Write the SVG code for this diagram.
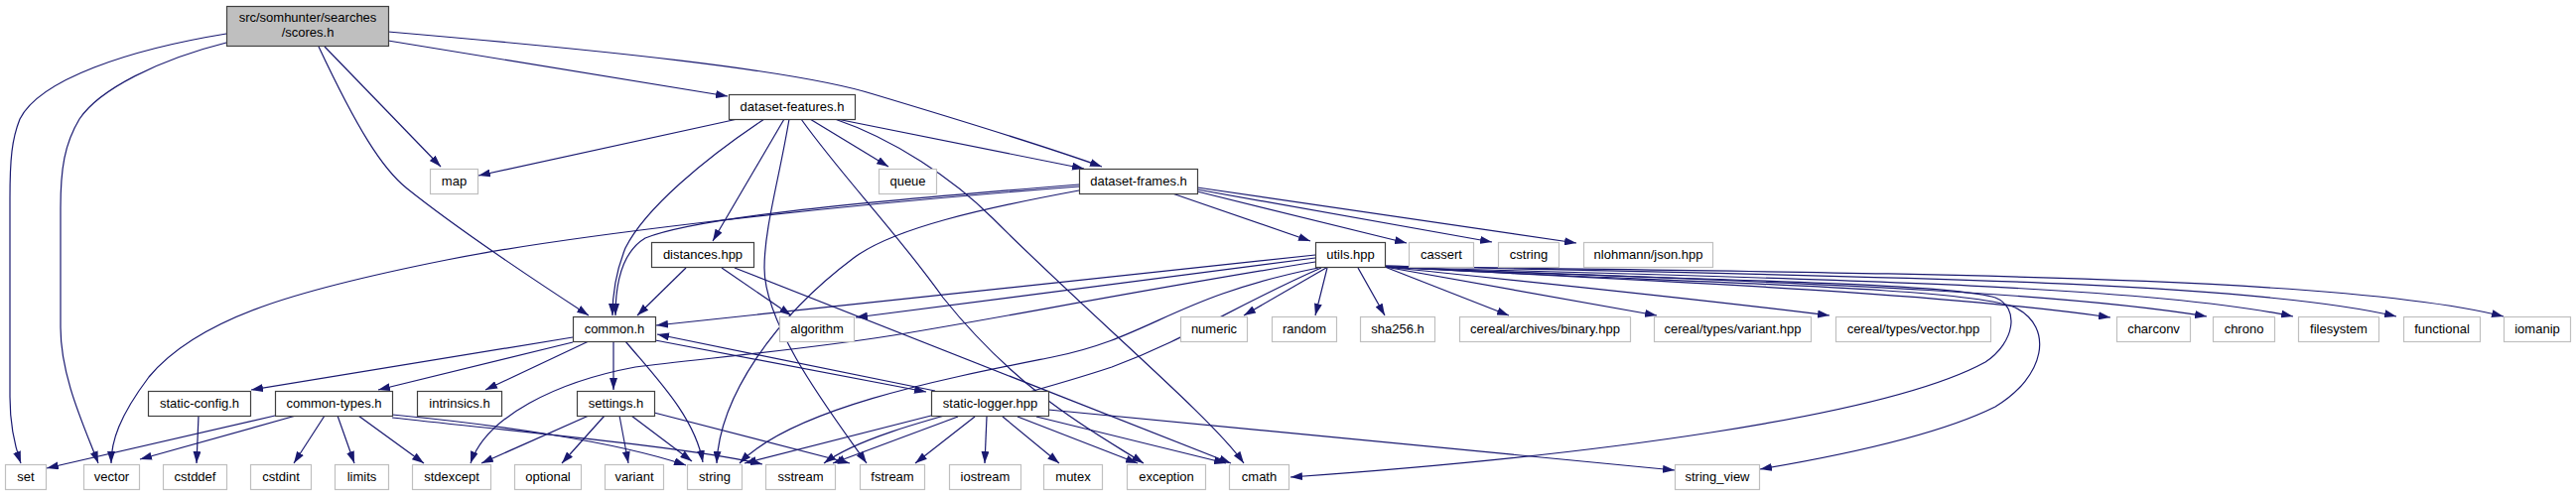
<svg xmlns="http://www.w3.org/2000/svg" width="2595" height="500" viewBox="0 0 2595 500">
<style>
text{font-family:"Liberation Sans",Arial,sans-serif;font-size:13px;text-anchor:middle;fill:#000}
.n rect{fill:#fff;stroke:#404040;stroke-width:1.2}
.x rect{fill:#fff;stroke:#bfbfbf;stroke-width:1.2}
.r rect{fill:#bfbfbf;stroke:#404040;stroke-width:1.2}
#edges path{fill:none;stroke:#191970;stroke-width:1.2;marker-end:url(#a)}
</style>
<defs>
<marker id="a" viewBox="0 0 12 8" refX="12" refY="4" markerWidth="12" markerHeight="8" markerUnits="userSpaceOnUse" orient="auto">
<path d="M0,0 L12,4 L0,8z" fill="#191970"/>
</marker>
</defs>
<rect width="2595" height="500" fill="#fff"/>
<g id="edges">
<path d="M228,34 C130,50 40,80 20,120 C12,140 10,160 10,200 L10,400 C10,430 15,450 21,467"/>
<path d="M228,43 C160,60 100,90 80,120 C65,145 61,170 61,210 L61,330 C61,380 85,430 99,467"/>
<path d="M327,47 L444,168"/>
<path d="M321,47 C360,130 385,170 410,190 C460,230 550,290 593,318"/>
<path d="M391,41 L733,97"/>
<path d="M391,32 C600,50 800,70 880,95 C980,125 1060,150 1110,168"/>
<path d="M743,120 L482,177"/>
<path d="M770,120 C710,160 650,210 630,250 C620,275 617,300 617,318"/>
<path d="M790,120 L718,243"/>
<path d="M795,120 C785,180 770,230 770,270 C770,330 840,420 873,467"/>
<path d="M807,120 C850,180 900,230 950,300 C1030,400 1110,440 1152,467"/>
<path d="M816,120 L895,168"/>
<path d="M841,120 C900,140 960,180 1000,220 C1100,320 1220,420 1253,467"/>
<path d="M843,120 L1092,170"/>
<path d="M1087,188 C800,210 560,240 450,262 C300,292 200,320 150,380 C120,420 112,445 112,467"/>
<path d="M1087,186 C850,205 700,220 650,240 C625,255 620,290 620,318"/>
<path d="M1087,192 C990,210 900,230 860,260 C780,320 725,400 722,467"/>
<path d="M1181,195 L1320,243"/>
<path d="M1206,193 L1417,245"/>
<path d="M1206,191 L1503,244"/>
<path d="M1206,189 L1588,245"/>
<path d="M1325,257 L661,328"/>
<path d="M1325,260 L862,320"/>
<path d="M1325,264 C1150,292 1000,322 900,338 C800,354 700,362 640,370 C560,385 490,420 474,467"/>
<path d="M1328,270 C1180,300 1160,340 1060,360 C960,380 800,410 745,467"/>
<path d="M1331,270 C1240,310 1200,340 1120,370 C1000,410 880,430 830,467"/>
<path d="M1336,270 L1253,318"/>
<path d="M1337,270 L1325,318"/>
<path d="M1368,270 L1395,318"/>
<path d="M1395,269 L1520,318"/>
<path d="M1395,269 L1669,318"/>
<path d="M1395,269 C1550,285 1700,300 1843,318"/>
<path d="M1395,269 C1700,285 1950,295 2126,320"/>
<path d="M1395,269 C1700,282 2050,290 2223,319"/>
<path d="M1395,269 C1750,280 2150,285 2310,319"/>
<path d="M1395,268 C1800,278 2250,280 2414,319"/>
<path d="M1395,268 C1850,276 2350,275 2522,319"/>
<path d="M1395,269 C1650,282 1950,283 2010,300 C2035,310 2030,345 2000,365 C1900,420 1600,460 1300,481"/>
<path d="M1395,269 C1650,284 1980,288 2030,310 C2070,330 2060,380 2010,410 C1950,440 1850,460 1773,473"/>
<path d="M577,340 L253,393"/>
<path d="M577,345 L381,393"/>
<path d="M593,344 L489,393"/>
<path d="M618,344 L618,393"/>
<path d="M630,344 C660,380 700,420 708,466"/>
<path d="M660,343 L933,395"/>
<path d="M942,394 L662,337"/>
<path d="M938,419 L750,467"/>
<path d="M965,420 L839,467"/>
<path d="M982,420 L922,467"/>
<path d="M994,420 L992,467"/>
<path d="M1010,420 L1067,467"/>
<path d="M1025,420 L1146,467"/>
<path d="M1044,420 L1235,467"/>
<path d="M1056,413 L1687,474"/>
<path d="M691,270 L642,318"/>
<path d="M727,270 L797,318"/>
<path d="M740,270 L1240,467"/>
<path d="M593,419 L485,467"/>
<path d="M609,419 L566,467"/>
<path d="M624,419 L633,467"/>
<path d="M636,419 L697,465"/>
<path d="M659,416 L856,467"/>
<path d="M277,419 L47,472"/>
<path d="M298,419 L141,463"/>
<path d="M327,419 L296,467"/>
<path d="M340,419 L357,467"/>
<path d="M361,419 L427,467"/>
<path d="M395,418 C500,428 620,445 691,469"/>
<path d="M395,421 C550,438 700,452 768,468"/>
<path d="M200,419 L198,467"/>
</g>
<g id="scores_h" class="r"><rect x="228.5" y="6.5" width="163" height="40"/><text x="310" y="22">src/somhunter/searches</text><text x="310" y="37">/scores.h</text></g>
<g id="dataset_features_h" class="n"><rect x="734.5" y="95.5" width="127" height="25"/><text x="798" y="112">dataset-features.h</text></g>
<g id="map" class="x"><rect x="433.5" y="170.5" width="48" height="25"/><text x="457.5" y="187">map</text></g>
<g id="queue" class="x"><rect x="885.5" y="170.5" width="58" height="25"/><text x="914.5" y="187">queue</text></g>
<g id="dataset_frames_h" class="n"><rect x="1087.5" y="170.5" width="119" height="25"/><text x="1147" y="187">dataset-frames.h</text></g>
<g id="distances_hpp" class="n"><rect x="656.5" y="244.5" width="103" height="25"/><text x="708" y="261">distances.hpp</text></g>
<g id="utils_hpp" class="n"><rect x="1325.5" y="244.5" width="70" height="25"/><text x="1360.5" y="261">utils.hpp</text></g>
<g id="cassert" class="x"><rect x="1419.5" y="244.5" width="65" height="25"/><text x="1452" y="261">cassert</text></g>
<g id="cstring" class="x"><rect x="1509.5" y="244.5" width="61" height="25"/><text x="1540" y="261">cstring</text></g>
<g id="json_hpp" class="x"><rect x="1595.5" y="244.5" width="130" height="25"/><text x="1660.5" y="261">nlohmann/json.hpp</text></g>
<g id="common_h" class="n"><rect x="577.5" y="319.5" width="83" height="25"/><text x="619" y="336">common.h</text></g>
<g id="algorithm" class="x"><rect x="785.5" y="319.5" width="75" height="25"/><text x="823" y="336">algorithm</text></g>
<g id="numeric" class="x"><rect x="1189.5" y="319.5" width="67" height="25"/><text x="1223" y="336">numeric</text></g>
<g id="random" class="x"><rect x="1281.5" y="319.5" width="65" height="25"/><text x="1314" y="336">random</text></g>
<g id="sha256_h" class="x"><rect x="1370.5" y="319.5" width="75" height="25"/><text x="1408" y="336">sha256.h</text></g>
<g id="cereal_binary" class="x"><rect x="1470.5" y="319.5" width="172" height="25"/><text x="1556.5" y="336">cereal/archives/binary.hpp</text></g>
<g id="cereal_variant" class="x"><rect x="1666.5" y="319.5" width="158" height="25"/><text x="1745.5" y="336">cereal/types/variant.hpp</text></g>
<g id="cereal_vector" class="x"><rect x="1849.5" y="319.5" width="156" height="25"/><text x="1927.5" y="336">cereal/types/vector.hpp</text></g>
<g id="charconv" class="x"><rect x="2132.5" y="319.5" width="74" height="25"/><text x="2169.5" y="336">charconv</text></g>
<g id="chrono" class="x"><rect x="2229.5" y="319.5" width="62" height="25"/><text x="2260.5" y="336">chrono</text></g>
<g id="filesystem" class="x"><rect x="2315.5" y="319.5" width="81" height="25"/><text x="2356" y="336">filesystem</text></g>
<g id="functional" class="x"><rect x="2421.5" y="319.5" width="77" height="25"/><text x="2460" y="336">functional</text></g>
<g id="iomanip" class="x"><rect x="2522.5" y="319.5" width="67" height="25"/><text x="2556" y="336">iomanip</text></g>
<g id="static_config_h" class="n"><rect x="149.5" y="394.5" width="103" height="25"/><text x="201" y="411">static-config.h</text></g>
<g id="common_types_h" class="n"><rect x="277.5" y="394.5" width="118" height="25"/><text x="336.5" y="411">common-types.h</text></g>
<g id="intrinsics_h" class="n"><rect x="420.5" y="394.5" width="85" height="25"/><text x="463" y="411">intrinsics.h</text></g>
<g id="settings_h" class="n"><rect x="581.5" y="394.5" width="78" height="25"/><text x="620.5" y="411">settings.h</text></g>
<g id="static_logger_hpp" class="n"><rect x="938.5" y="394.5" width="118" height="25"/><text x="997.5" y="411">static-logger.hpp</text></g>
<g id="set" class="x"><rect x="5.5" y="468.5" width="41" height="25"/><text x="26" y="485">set</text></g>
<g id="vector" class="x"><rect x="84.5" y="468.5" width="56" height="25"/><text x="112.5" y="485">vector</text></g>
<g id="cstddef" class="x"><rect x="164.5" y="468.5" width="64" height="25"/><text x="196.5" y="485">cstddef</text></g>
<g id="cstdint" class="x"><rect x="252.5" y="468.5" width="61" height="25"/><text x="283" y="485">cstdint</text></g>
<g id="limits" class="x"><rect x="337.5" y="468.5" width="54" height="25"/><text x="364.5" y="485">limits</text></g>
<g id="stdexcept" class="x"><rect x="415.5" y="468.5" width="79" height="25"/><text x="455" y="485">stdexcept</text></g>
<g id="optional" class="x"><rect x="518.5" y="468.5" width="67" height="25"/><text x="552" y="485">optional</text></g>
<g id="variant" class="x"><rect x="609.5" y="468.5" width="59" height="25"/><text x="639" y="485">variant</text></g>
<g id="string" class="x"><rect x="692.5" y="468.5" width="55" height="25"/><text x="720" y="485">string</text></g>
<g id="sstream" class="x"><rect x="771.5" y="468.5" width="70" height="25"/><text x="806.5" y="485">sstream</text></g>
<g id="fstream" class="x"><rect x="866.5" y="468.5" width="65" height="25"/><text x="899" y="485">fstream</text></g>
<g id="iostream" class="x"><rect x="956.5" y="468.5" width="72" height="25"/><text x="992.5" y="485">iostream</text></g>
<g id="mutex" class="x"><rect x="1051.5" y="468.5" width="59" height="25"/><text x="1081" y="485">mutex</text></g>
<g id="exception" class="x"><rect x="1135.5" y="468.5" width="79" height="25"/><text x="1175" y="485">exception</text></g>
<g id="cmath" class="x"><rect x="1238.5" y="468.5" width="60" height="25"/><text x="1268.5" y="485">cmath</text></g>
<g id="string_view" class="x"><rect x="1687.5" y="468.5" width="85" height="25"/><text x="1730" y="485">string_view</text></g>
</svg>
